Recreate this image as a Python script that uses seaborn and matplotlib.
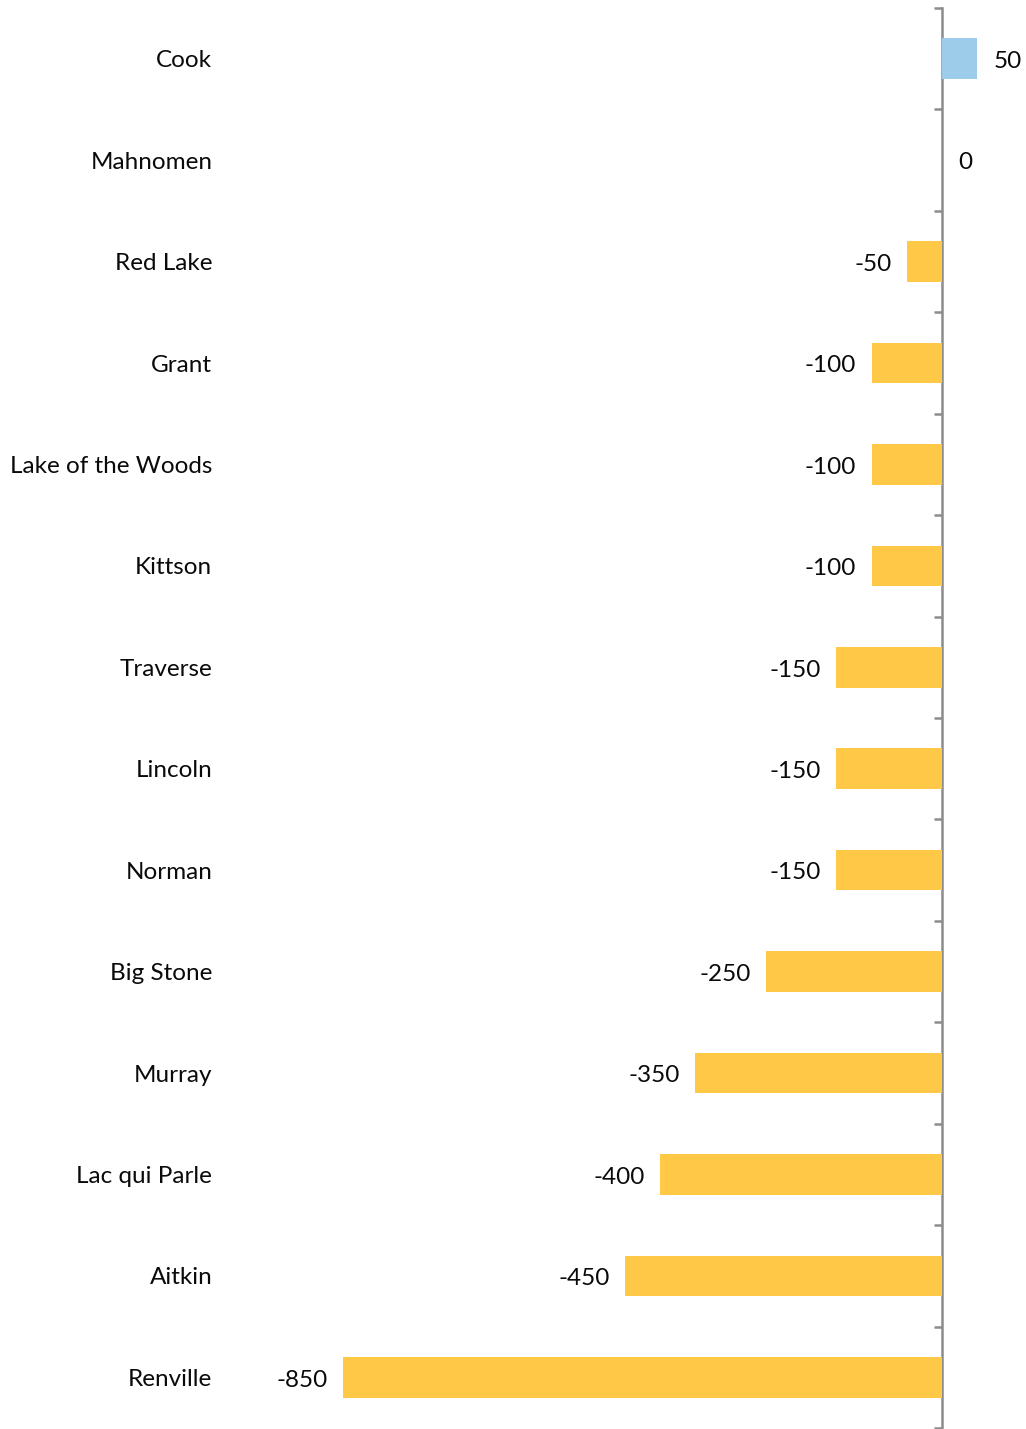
import matplotlib
matplotlib.use("Agg")
import matplotlib.pyplot as plt
import seaborn as sns
import pandas as pd
import numpy as np

counties = ["Cook", "Mahnomen", "Red Lake", "Grant", "Lake of the Woods", "Kittson",
            "Traverse", "Lincoln", "Norman", "Big Stone", "Murray", "Lac qui Parle",
            "Aitkin", "Renville"]
change = [50, 0, -50, -100, -100, -100, -150, -150, -150, -250, -350, -400, -450, -850]

POS_COLOR = "#9DCBEA"
NEG_COLOR = "#FFC846"
AXIS_GRAY = "#8C8C8C"
TEXT_COLOR = "#0A0A0A"

sns.set_theme(style="white")
plt.rcParams["font.family"] = ["Lato", "DejaVu Sans"]

df = pd.DataFrame({"county": counties, "change": change})
df["sign"] = np.where(df["change"] > 0, "pos", "neg")

W, H, DPI = 1026, 1429, 100
fig = plt.figure(figsize=(W / DPI, H / DPI), dpi=DPI)

# axes geometry in pixels
left_px, right_px = 222, 1026
top_px, bottom_px = 8, 1428
ax = fig.add_axes([left_px / W, (H - bottom_px) / H,
                   (right_px - left_px) / W, (bottom_px - top_px) / H])

sns.barplot(data=df, y="county", x="change", hue="sign",
            palette={"pos": POS_COLOR, "neg": NEG_COLOR},
            width=0.4, orient="h", dodge=False, legend=False,
            saturation=1, linewidth=0, ax=ax)

# scale: zero at pixel 942, -850 at pixel 343
px_per_unit = (942 - 343) / 850
ax.set_xlim((left_px - 942) / px_per_unit, (right_px - 942) / px_per_unit)
n = len(counties)
ax.set_ylim(n - 0.5, -0.5)

for s in ax.spines.values():
    s.set_visible(False)
ax.set_xticks([])
ax.set_xlabel("")
ax.set_ylabel("")
ax.tick_params(axis="y", length=0, pad=7, labelsize=17.5, labelcolor=TEXT_COLOR)

# value axis line at zero with boundary ticks
zero_axis = ax.secondary_yaxis(0, transform=ax.transData)
zero_axis.spines["left"].set_color(AXIS_GRAY)
zero_axis.spines["left"].set_linewidth(1.8)
zero_axis.set_yticks(np.arange(-0.5, n, 1.0))
zero_axis.set_yticklabels([])
zero_axis.tick_params(axis="y", length=6, width=1.8, color=AXIS_GRAY, direction="out")

# data labels
for i, v in enumerate(change):
    if v < 0:
        ax.annotate(f"{v}", (v, i), xytext=(-11, -2), textcoords="offset points",
                    ha="right", va="center", fontsize=17.5, color=TEXT_COLOR)
    else:
        ax.annotate(f"{v}", (v, i), xytext=(12, -2), textcoords="offset points",
                    ha="left", va="center", fontsize=17.5, color=TEXT_COLOR)

fig.savefig("out.png", dpi=DPI, facecolor="white")
